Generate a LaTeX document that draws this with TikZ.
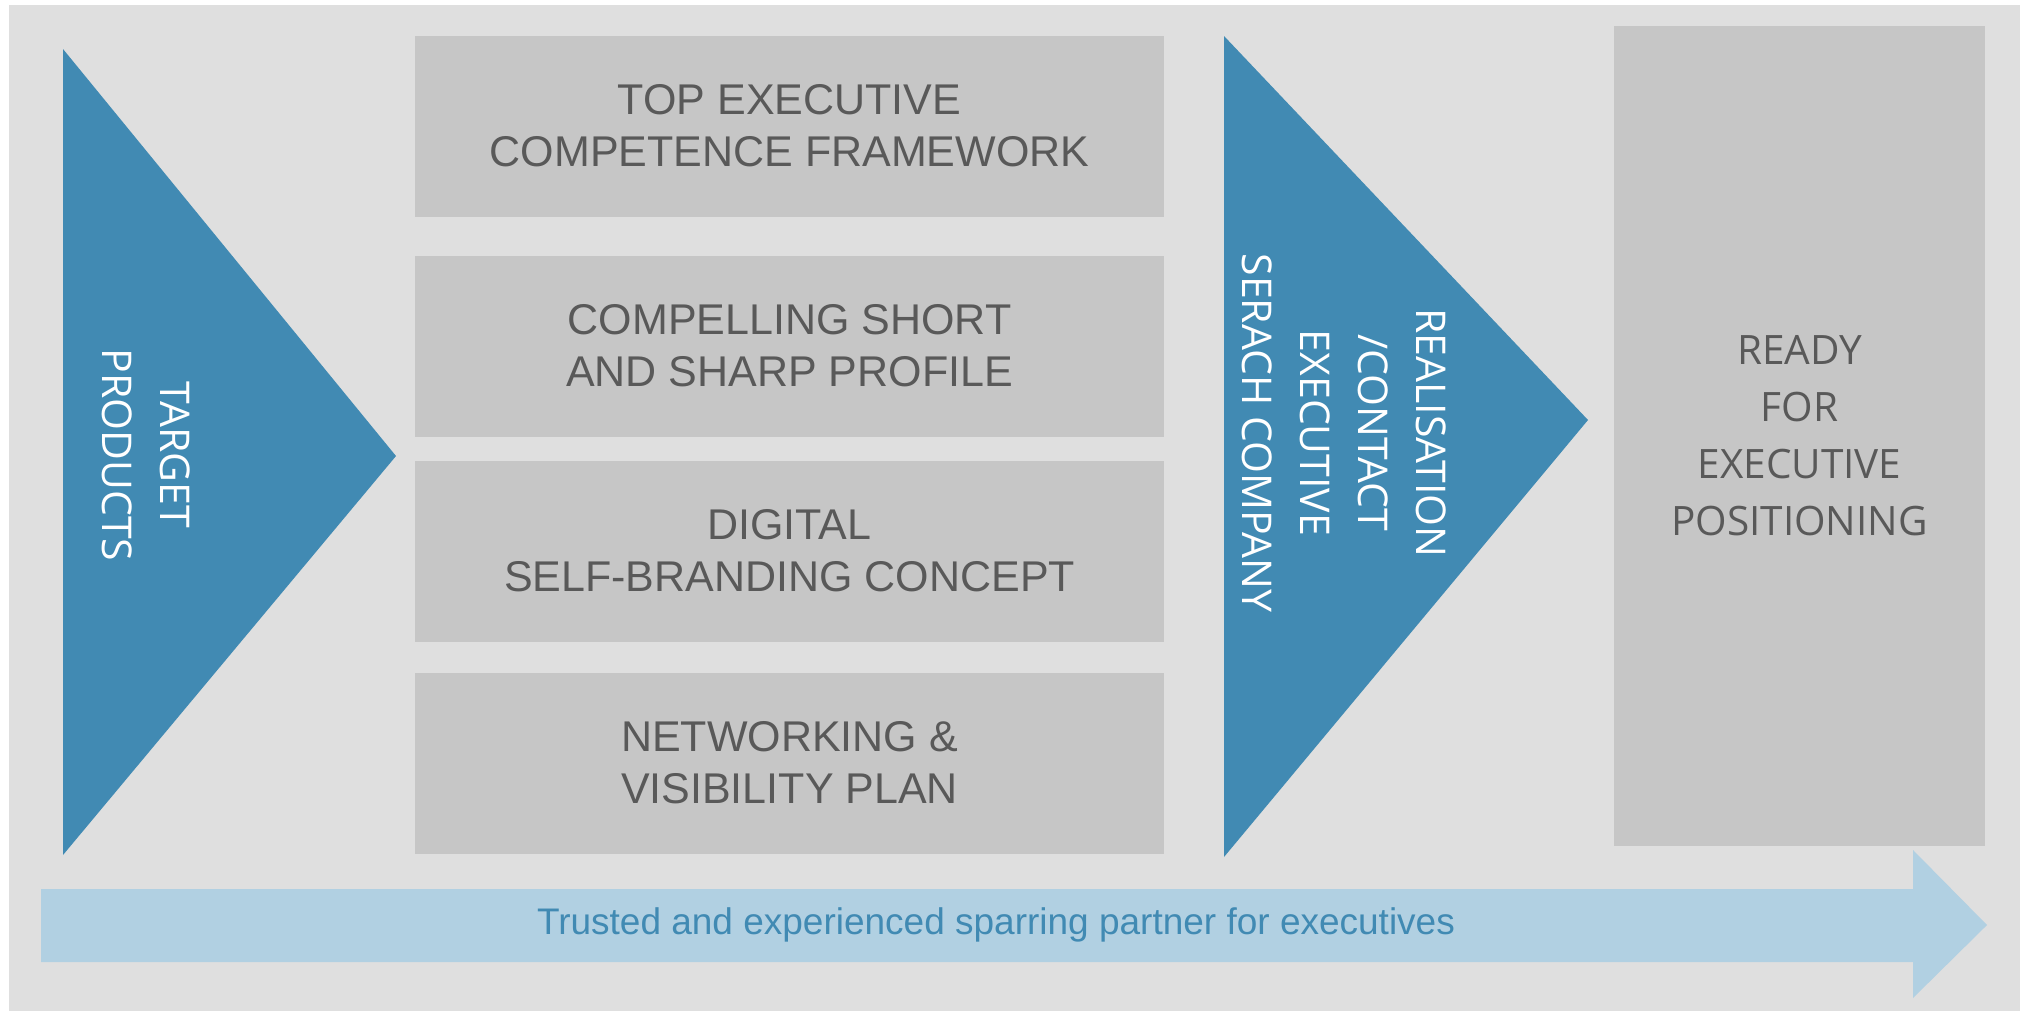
\documentclass[tikz,border=0pt]{standalone}
\usepackage{fontspec}
\setmainfont{Liberation Sans}
\newfontfamily\stepfont{Open Sans}
\usepackage{tikz}
\usetikzlibrary{positioning}
\definecolor{pagegray}{HTML}{DFDFDF}
\definecolor{boxgray}{HTML}{C6C6C6}
\definecolor{textgray}{HTML}{595959}
\definecolor{stepblue}{HTML}{418AB3}
\definecolor{lightblue}{HTML}{B1D0E2}
\newcommand{\boxwidth}{749pt}
\newcommand{\boxheight}{181pt}

\begin{document}
\begin{tikzpicture}[x=1pt,y=-1pt,
  pillar/.style={fill=boxgray,minimum width=\boxwidth,minimum height=\boxheight,
    align=center,text=textgray,font=\fontsize{43}{52}\selectfont},
  steptext/.style={rotate=-90,align=center,text=white,font=\stepfont\fontsize{41}{58}\selectfont}]
\useasboundingbox (0,0) rectangle (2020,1010);
\fill[pagegray] (9,5) rectangle (2030,1020);
% left wedge
\fill[stepblue] (63,49) -- (396,456) -- (63,855) -- cycle;
\node[steptext] (target) at (146,455) {TARGET\\PRODUCTS};
% the four pillars
\node[pillar] (top) at (789.5,126) {TOP EXECUTIVE\\COMPETENCE FRAMEWORK};
\node[pillar] (profile) at (789.5,346) {COMPELLING SHORT\\AND SHARP PROFILE};
\node[pillar] (digital) at (789.5,551) {DIGITAL\\SELF-BRANDING CONCEPT};
\node[pillar] (network) at (789.5,763) {NETWORKING \&\\VISIBILITY PLAN};
% right wedge
\fill[stepblue] (1224,36) -- (1588,420) -- (1224,857) -- cycle;
\node[steptext] (search) at (1344,433) {REALISATION\\/CONTACT\\EXECUTIVE\\SERACH COMPANY};
% result
\node[fill=boxgray,minimum width=371pt,minimum height=820pt,align=center,text=textgray,
  font=\stepfont\fontsize{40.5}{57}\selectfont] (ready) at (1799.5,436)
  {READY\\FOR\\EXECUTIVE\\POSITIONING};
% bottom arrow
\fill[lightblue] (41,889) -- (1913,889) -- (1913,850) -- (1987,925) -- (1913,998)
  -- (1913,962) -- (41,962) -- cycle;
\node[text=stepblue,font=\fontsize{37}{44}\selectfont] (partner) at (996,925)
  {Trusted and experienced sparring partner for executives};
\end{tikzpicture}
\end{document}
